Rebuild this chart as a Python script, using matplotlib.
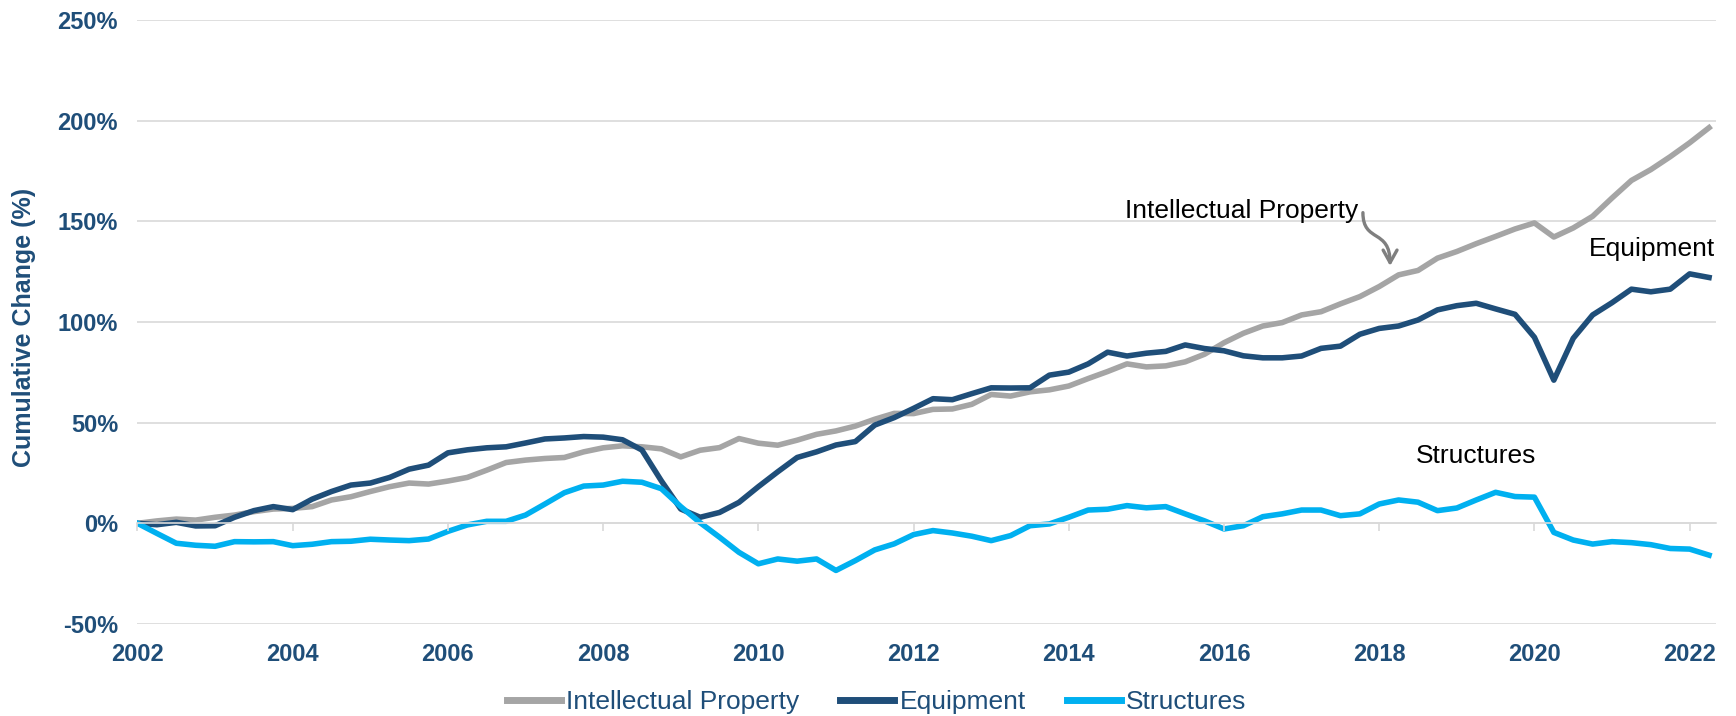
import matplotlib.pyplot as plt
import numpy as np
from matplotlib.patches import FancyArrowPatch
from matplotlib.path import Path

plt.rcParams['font.family'] = ['Liberation Sans', 'DejaVu Sans']

# quarterly observations, 2002 Q1 through 2022 Q2
quarters = 2002 + 0.25 * np.arange(82)

intellectual_property = [
    0.0, 1.2, 2.1, 1.6,
    3.0, 4.1, 5.8, 7.1,
    7.4, 8.3, 11.6, 13.2,
    15.8, 18.2, 20.0, 19.5,
    21.0, 22.8, 26.4, 30.2,
    31.4, 32.2, 32.7, 35.5,
    37.5, 38.5, 38.0, 37.0,
    33.0, 36.3, 37.6, 42.1,
    39.8, 38.8, 41.3, 44.2,
    45.9, 48.3, 51.7, 54.6,
    54.5, 56.6, 56.8, 59.1,
    64.0, 63.2, 65.3, 66.3,
    68.2, 71.9, 75.4, 79.2,
    77.7, 78.2, 80.2, 84.0,
    89.7, 94.4, 98.0, 99.7,
    103.5, 105.1, 109.0, 112.6,
    117.6, 123.4, 125.6, 131.7,
    135.0, 138.9, 142.5, 146.2,
    149.2, 142.2, 146.7, 152.5,
    161.6, 170.3, 175.7, 182.1,
    189.0, 196.5,
]

equipment = [
    0.0, -0.7, 0.5, -1.3,
    -1.2, 3.0, 6.3, 8.3,
    6.8, 12.0, 15.8, 19.0,
    20.0, 22.8, 26.9, 28.9,
    35.0, 36.5, 37.5, 38.0,
    39.9, 41.9, 42.4, 43.1,
    42.8, 41.5, 36.4, 21.1,
    7.1, 3.0, 5.4, 10.4,
    18.2, 25.6, 32.7, 35.5,
    38.9, 40.6, 48.8, 52.5,
    57.1, 61.9, 61.4, 64.4,
    67.3, 67.2, 67.3, 73.6,
    75.1, 79.2, 85.0, 83.1,
    84.5, 85.4, 88.6, 86.8,
    85.7, 83.2, 82.2, 82.2,
    83.1, 86.9, 88.0, 93.9,
    96.8, 98.0, 101.0, 106.0,
    108.1, 109.3, 106.5, 103.8,
    92.4, 71.1, 91.9, 103.5,
    109.6, 116.3, 115.0, 116.3,
    123.9, 122.1,
]

structures = [
    0.0, -5.0, -9.9, -10.9,
    -11.4, -9.1, -9.2, -9.1,
    -11.1, -10.4, -9.1, -8.9,
    -7.9, -8.3, -8.6, -7.8,
    -4.0, -0.8, 1.0, 1.0,
    4.1, 9.6, 15.2, 18.5,
    19.0, 20.9, 20.4, 17.2,
    8.3, 0.3, -6.9, -14.4,
    -20.1, -17.7, -18.8, -17.7,
    -23.4, -18.5, -13.2, -10.2,
    -5.6, -3.6, -4.8, -6.4,
    -8.6, -6.1, -1.2, -0.3,
    3.0, 6.6, 7.0, 8.8,
    7.7, 8.3, 4.7, 1.2,
    -2.8, -1.2, 3.3, 4.7,
    6.6, 6.6, 3.8, 4.7,
    9.6, 11.6, 10.5, 6.3,
    7.6, 11.6, 15.4, 13.3,
    13.0, -4.5, -8.3, -10.3,
    -9.1, -9.6, -10.6, -12.5,
    -12.8, -15.8,
]

year_ticks = list(range(2002, 2023, 2))
pct_ticks = [-50, 0, 50, 100, 150, 200, 250]

NAVY = '#1F4E79'
GRAY = '#A5A5A5'
CYAN = '#00B0F0'
GRID = '#D9D9D9'

fig = plt.figure(figsize=(17.36, 7.16), dpi=100)
left, bottom, width, height = 0.0792, 0.1285, 0.9093, 0.8436
ax = fig.add_axes([left, bottom, width, height])

ax.plot(quarters, intellectual_property, color=GRAY, lw=4.0, label='Intellectual Property', solid_joinstyle='round')
ax.plot(quarters, equipment, color=NAVY, lw=4.0, label='Equipment', solid_joinstyle='round')
ax.plot(quarters, structures, color=CYAN, lw=4.0, label='Structures', solid_joinstyle='round')

ax.set_xlim(2002, 2022.34)
ax.set_ylim(-50, 250)
ax.set_yticks(pct_ticks)
ax.set_yticklabels([f'{v}%' for v in pct_ticks])
ax.set_xticks(year_ticks)
ax.set_xticklabels([str(y) for y in year_ticks])
ax.grid(axis='y', color=GRID, lw=1.2)
ax.set_axisbelow(True)
for s in ax.spines.values():
    s.set_visible(False)
ax.tick_params(length=0, colors=NAVY, labelsize=17)
ax.tick_params(axis='y', pad=14)
ax.tick_params(axis='x', pad=14)
for lbl in ax.get_xticklabels() + ax.get_yticklabels():
    lbl.set_fontweight('bold')

# category axis line sits on the 0% gridline, with short tick marks below it
axis0 = fig.add_axes([left, bottom + height / 6, width, 1e-6], zorder=0)
axis0.set_xlim(ax.get_xlim())
axis0.set_xticks(year_ticks)
axis0.set_yticks([])
axis0.patch.set_visible(False)
for name, s in axis0.spines.items():
    s.set_visible(name == 'bottom')
axis0.spines['bottom'].set_color(GRID)
axis0.spines['bottom'].set_linewidth(1.2)
axis0.tick_params(axis='x', length=6, width=1.2, color=GRID, labelbottom=False)

fig.text(0.0138, 0.543, 'Cumulative Change (%)', rotation=90, ha='center', va='center',
         fontsize=18, fontweight='bold', color=NAVY)

ax.text(2014.73, 151.6, 'Intellectual Property', fontsize=19, color='black', va='baseline')
ax.text(2022.33, 132.8, 'Equipment', fontsize=19, color='black', va='baseline', ha='right')
ax.text(2018.47, 30.2, 'Structures', fontsize=19, color='black', va='baseline')

arrow_path = Path([(2017.79, 154.3), (2017.79, 139.0), (2018.14, 146.7), (2018.14, 127.8)],
                  [Path.MOVETO, Path.CURVE4, Path.CURVE4, Path.CURVE4])
ax.add_patch(FancyArrowPatch(path=arrow_path, arrowstyle='->,head_length=9,head_width=5',
                             color='#7F7F7F', lw=2.4))

leg = ax.legend(loc='center', bbox_to_anchor=(0.505, 0.0196), bbox_transform=fig.transFigure,
                ncol=3, frameon=False, fontsize=19, handlelength=2.05, handletextpad=0.2,
                columnspacing=1.55)
for t in leg.get_texts():
    t.set_color(NAVY)
for h in leg.get_lines():
    h.set_linewidth(5)

fig.savefig('out.png', dpi=100)
